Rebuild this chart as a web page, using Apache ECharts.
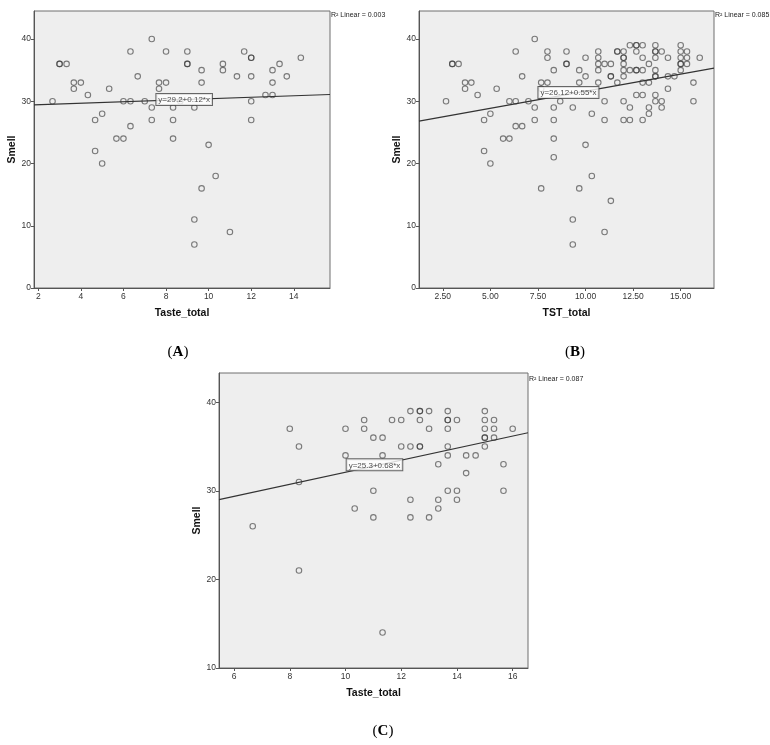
<!DOCTYPE html>
<html><head><meta charset="utf-8">
<script src="https://cdn.jsdelivr.net/npm/echarts@6/dist/echarts.min.js"></script>
<style>html,body{margin:0;padding:0;background:#fff}#c{width:770px;height:745px}</style>
</head><body><div id="c"></div>
<script>
// ---- Panel A: Taste_total vs Smell ----
const pointsA = [
 [2.67,30],[3,36],[3,36],[3.33,36],[3.67,33],[3.67,32],[4,33],[4.33,31],
 [4.67,27],[4.67,22],[5,28],[5,20],[5.33,32],[5.67,24],[6,30],[6,24],
 [6.33,38],[6.33,30],[6.33,26],[6.67,34],[7,30],[7.33,40],[7.33,29],[7.33,27],
 [7.67,33],[7.67,32],[8,38],[8,33],[8.33,29],[8.33,27],[8.33,24],[8.67,30],
 [9,38],[9,36],[9,36],[9.33,29],[9.33,11],[9.33,7],[9.67,35],[9.67,33],[9.67,16],
 [10,23],[10.33,18],[10.67,36],[10.67,35],[11,9],[11.33,34],[11.67,38],
 [12,37],[12,37],[12,34],[12,30],[12,27],[12.67,31],[13,35],[13,33],[13,31],
 [13.33,36],[13.67,34],[14.33,37]
];
// ---- Panel B: TST_total vs Smell ----
const pointsB = [
 [2.67,30],[3,36],[3,36],[3.33,36],[3.67,33],[3.67,32],[4,33],[4.33,31],[5.33,32],
 [4.67,27],[5,28],[4.67,22],[5,20],[5.67,24],[6,24],[6,30],[6.33,30],[6.33,38],
 [6.33,26],[6.67,26],[6.67,34],[7,30],[7.33,40],[7.33,29],[7.33,27],[7.67,33],[7.67,32],
 [8,38],[8,37],[8,33],[8.33,35],[8.33,29],[8.33,27],[8.33,24],[8.33,21],[8.67,30],
 [7.67,16],[9,38],[9,36],[9,36],[9.33,29],[9.33,11],[9.33,7],[9.67,35],[9.67,33],[9.67,16],
 [12.33,39],[12.67,39],[12.67,39],[13,39],[13.67,39],[15,39],
 [10.67,38],[11.67,38],[11.67,38],[12,38],[12.67,38],[13.67,38],[13.67,38],[14,38],[15,38],[15.33,38],
 [10,37],[10.67,37],[12,37],[12,37],[13,37],[13.67,37],[14.33,37],[15,37],[15.33,37],[16,37],
 [10.67,36],[11,36],[11.33,36],[12,36],[13.33,36],[15,36],[15,36],[15.33,36],
 [10.67,35],[12,35],[12.33,35],[12.67,35],[12.67,35],[13,35],[13.67,35],[15,35],
 [10,34],[11.33,34],[11.33,34],[12,34],[13.67,34],[13.67,34],[14.33,34],[14.67,34],
 [10.67,33],[11.67,33],[13,33],[13.33,33],[15.67,33],
 [14.33,32],
 [12.67,31],[13,31],[13.67,31],
 [11,30],[12,30],[13.67,30],[14,30],[15.67,30],
 [12.33,29],[13.33,29],[14,29],
 [10.33,28],[13.33,28],
 [11,27],[12,27],[12.33,27],[13,27],
 [10,23],[10.33,18],[11.33,14],[11,9]
];
// ---- Panel C: Taste_total vs Smell ----
const pointsC = [
 [6.67,26],[8,37],[8.33,35],[8.33,31],[8.33,21],
 [10,37],[10,34],[10.33,28],[10.67,38],[10.67,37],
 [11,36],[11,30],[11,27],[11.33,36],[11.33,34],[11.33,14],
 [12.33,39],[12.67,39],[12.67,39],[13,39],[13.67,39],[15,39],
 [11.67,38],[12,38],[12.67,38],[13.67,38],[13.67,38],[14,38],[15,38],[15.33,38],
 [13,37],[13.67,37],[15,37],[15.33,37],[16,37],
 [15,36],[15,36],[15.33,36],
 [12,35],[12.33,35],[12.67,35],[12.67,35],[13.67,35],[15,35],
 [13.67,34],[14.33,34],[14.67,34],
 [13.33,33],[15.67,33],
 [14.33,32],
 [13.67,30],[14,30],[15.67,30],
 [12.33,29],[13.33,29],[14,29],
 [13.33,28],
 [12.33,27],[13,27]
];
// fit lines: intercept, slope, R2 text
const fitA = [29.2, 0.12, '0.003'];
const fitB = [26.12, 0.55, '0.085'];
const fitC = [25.3, 0.68, '0.087'];
const xTicksA = [2,4,6,8,10,12,14];
const xTicksB = [2.5,5,7.5,10,12.5,15];
const xTicksC = [6,8,10,12,14,16];
const yTicksAB = [0,10,20,30,40];
const yTicksC = [10,20,30,40];
const xNames = ['Taste_total','TST_total','Taste_total'];

const grids = [
  {left:34, top:11, width:296, height:277},
  {left:419, top:11, width:295, height:277},
  {left:219, top:373, width:309, height:295}
];
const xr = [[1.8,15.7],[1.25,16.75],[5.46,16.55]];
const yr = [[0,44.5],[0,44.5],[10,43.3]];
const labelX = [7.57, 7.55, 10.06];
const fits = [fitA, fitB, fitC];
const pts = [pointsA, pointsB, pointsC];
const xt = [xTicksA, xTicksB, xTicksC];
const yt = [yTicksAB, yTicksAB, yTicksC];

const F = 'Arial, "Liberation Sans", sans-serif';
const chart = echarts.init(document.getElementById('c'), null, {renderer:'canvas'});
const option = {
  animation:false,
  grid: grids.map(g => Object.assign({show:true, backgroundColor:'#eeeeee', borderColor:'#6e6e6e', borderWidth:1, outerBoundsMode:'none'}, g)),
  xAxis: [0,1,2].map(i => ({
    type:'value', gridIndex:i, min:xr[i][0], max:xr[i][1],
    name:xNames[i], nameLocation:'middle', nameGap:20,
    nameTextStyle:{fontFamily:F, fontWeight:'bold', fontSize:10.5, color:'#111'},
    axisLine:{show:true, lineStyle:{color:'#555'}},
    axisTick:{show:true, length:3, customValues:xt[i], lineStyle:{color:'#555'}},
    axisLabel:{customValues:xt[i], margin:4, fontSize:8.5, fontFamily:F, color:'#333',
      formatter: v => i===1 ? Number(v).toFixed(2) : String(v)},
    splitLine:{show:false}
  })),
  yAxis: [0,1,2].map(i => ({
    type:'value', gridIndex:i, min:yr[i][0], max:yr[i][1],
    name:'Smell', nameLocation:'middle', nameGap:16, nameRotate:90,
    nameTextStyle:{fontFamily:F, fontWeight:'bold', fontSize:10.5, color:'#111'},
    axisLine:{show:true, lineStyle:{color:'#555'}},
    axisTick:{show:true, length:3, customValues:yt[i], lineStyle:{color:'#555'}},
    axisLabel:{customValues:yt[i], margin:3, fontSize:8.5, fontFamily:F, color:'#333'},
    splitLine:{show:false}
  })),
  series: []
};
for (let i=0;i<3;i++){
  const [a,b] = fits[i];
  option.series.push({
    type:'scatter', xAxisIndex:i, yAxisIndex:i, data:pts[i], symbol:'circle', symbolSize:5.5,
    itemStyle:{color:'rgba(0,0,0,0)', borderColor:'rgba(55,55,55,0.8)', borderWidth:1.1},
    emphasis:{disabled:true}, silent:true, z:3
  });
  option.series.push({
    type:'line', xAxisIndex:i, yAxisIndex:i, symbol:'none', silent:true,
    data:[[xr[i][0], a+b*xr[i][0]], [xr[i][1], a+b*xr[i][1]]],
    lineStyle:{color:'#333', width:1.2}, z:2
  });
  const lx = labelX[i];
  option.series.push({
    type:'scatter', xAxisIndex:i, yAxisIndex:i, symbolSize:1, silent:true,
    itemStyle:{color:'rgba(0,0,0,0)'},
    data:[[lx, a+b*lx]], z:5,
    label:{show:true, formatter:'y='+a+'+'+b+'*x',
      position: i===0 ? [0,-6] : [0,-12], align:'left', verticalAlign:'top',
      fontFamily:F, fontSize:8, color:'#222', backgroundColor:'#fff',
      borderColor:'#444', borderWidth:1, padding:[2,2,1,2]}
  });
}
const r2pos = [[331,15],[715,15],[529,379]];
const capPos = [[178,352],[575,352],[383,731]];
const caps = ['A','B','C'];
option.graphic = [];
for (let i=0;i<3;i++){
  option.graphic.push({type:'text', x:r2pos[i][0], y:r2pos[i][1],
    style:{text:'R² Linear = '+fits[i][2], font:'7px '+F, fill:'#222', textAlign:'left', textVerticalAlign:'middle'}});
  option.graphic.push({type:'text', x:capPos[i][0], y:capPos[i][1],
    style:{text:'({b|'+caps[i]+'})', font:'15px "Liberation Serif", "DejaVu Serif", serif', fill:'#000',
      textAlign:'center', textVerticalAlign:'middle',
      rich:{b:{fontWeight:'bold', fontSize:15, fontFamily:'"Liberation Serif", "DejaVu Serif", serif', fill:'#000'}}}});
}
chart.setOption(option);
</script>
</body></html>
